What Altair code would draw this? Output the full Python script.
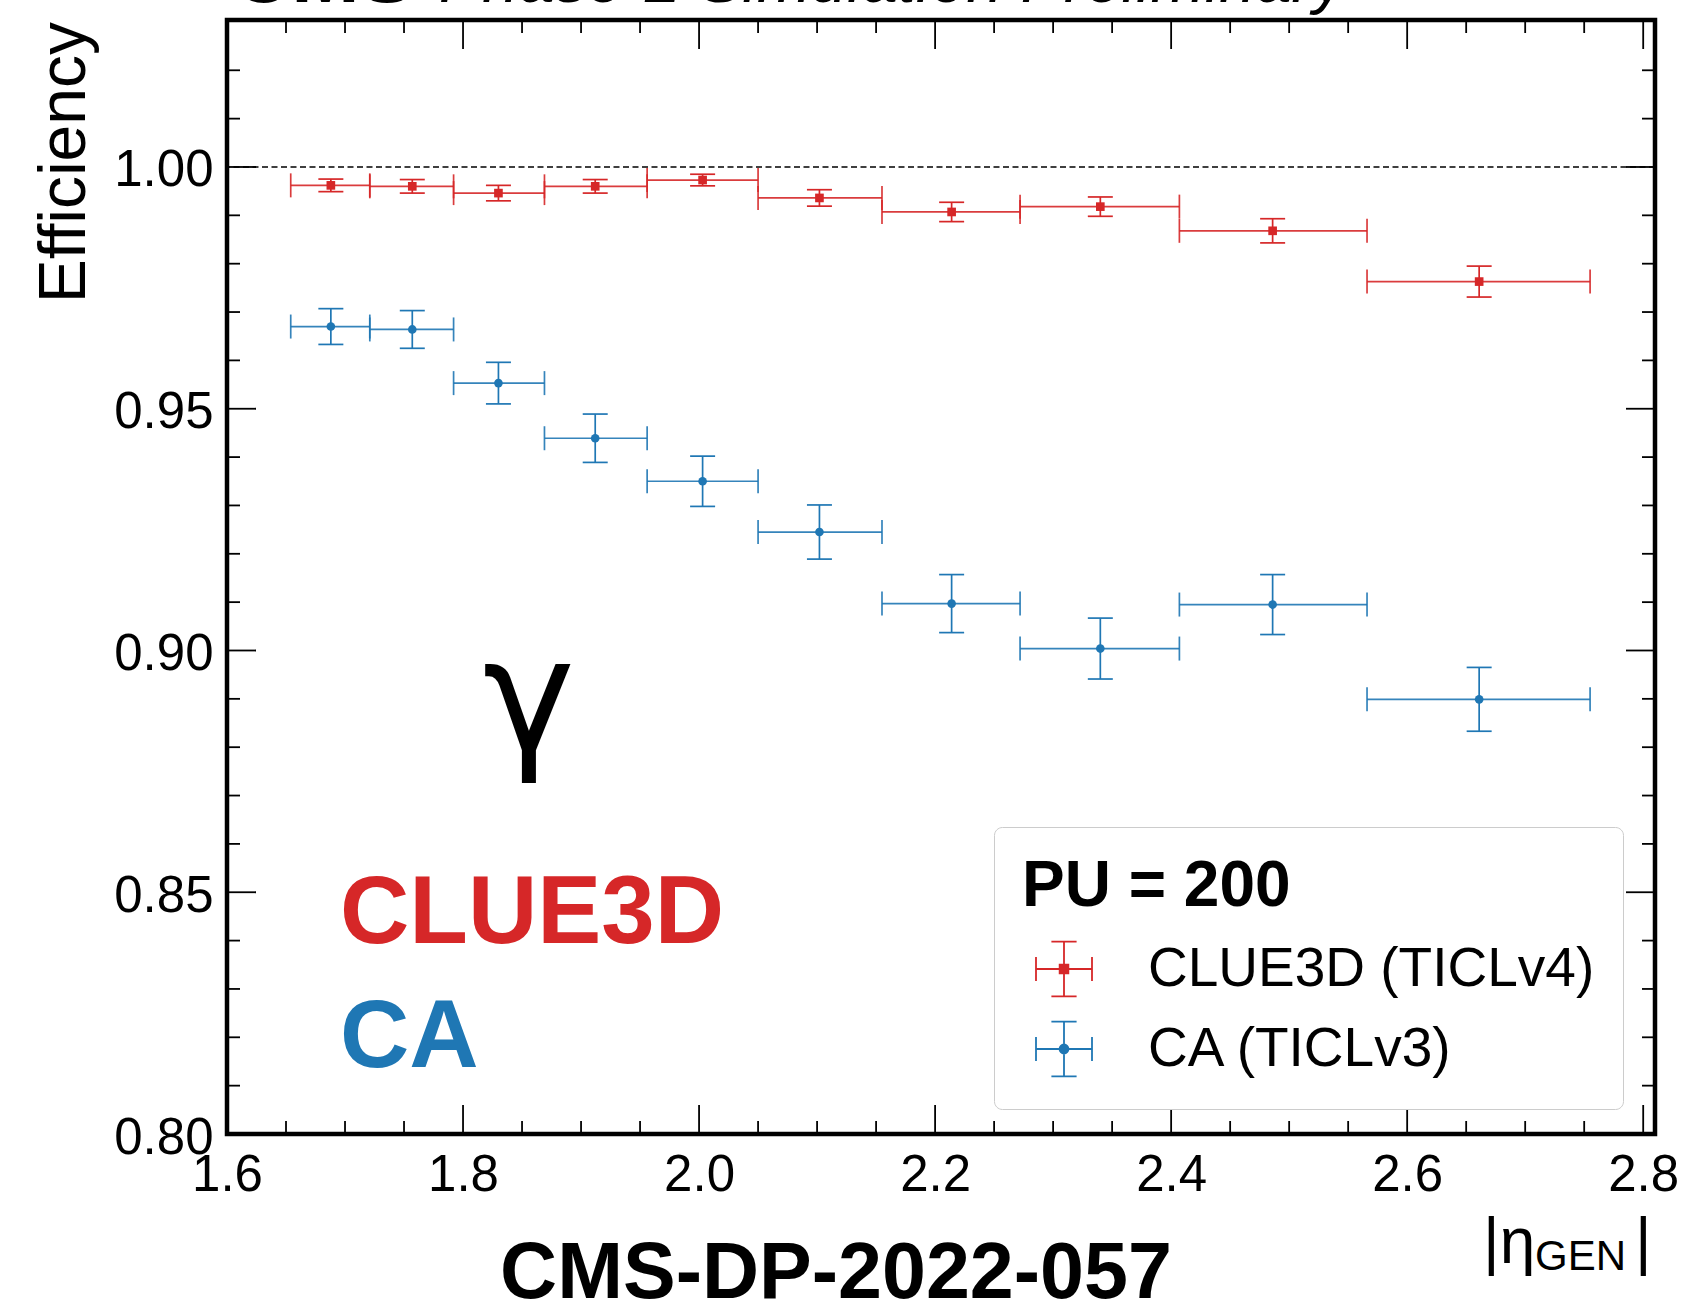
import altair as alt
import pandas as pd

# ---------------- data ----------------
eta_center = [1.688, 1.757, 1.830, 1.912, 2.003, 2.102, 2.214, 2.340, 2.486, 2.661]
eta_lo = [1.654, 1.721, 1.792, 1.869, 1.956, 2.050, 2.155, 2.272, 2.407, 2.566]
eta_hi = [1.721, 1.792, 1.869, 1.956, 2.050, 2.155, 2.272, 2.407, 2.566, 2.755]

clue3d_eff = [0.9962, 0.9960, 0.9946, 0.9960, 0.9973, 0.9936, 0.9907, 0.9918, 0.9868, 0.9763]
clue3d_err = [0.0013, 0.0014, 0.0016, 0.0014, 0.0012, 0.0017, 0.0020, 0.0020, 0.0025, 0.0032]
ca_eff = [0.9670, 0.9664, 0.9553, 0.9439, 0.9350, 0.9245, 0.9097, 0.9004, 0.9095, 0.8899]
ca_err = [0.0037, 0.0039, 0.0043, 0.0050, 0.0052, 0.0056, 0.0060, 0.0063, 0.0062, 0.0066]

series_names = ["CLUE3D (TICLv4)", "CA (TICLv3)"]
series_colors = ["#d62728", "#1f77b4"]
series_shapes = ["square", "circle"]

x_major = [1.6, 1.8, 2.0, 2.2, 2.4, 2.6, 2.8]
x_minor = [1.65, 1.70, 1.75, 1.85, 1.90, 1.95, 2.05, 2.10, 2.15, 2.25, 2.30, 2.35,
           2.45, 2.50, 2.55, 2.65, 2.70, 2.75]
y_major = [0.80, 0.85, 0.90, 0.95, 1.00]
y_minor = [0.81, 0.82, 0.83, 0.84, 0.86, 0.87, 0.88, 0.89, 0.91, 0.92, 0.93, 0.94,
           0.96, 0.97, 0.98, 0.99, 1.01, 1.02]
reference_line = [1.0]

x_domain = [1.6, 2.81]
y_domain = [0.80, 1.0304]

# ---------------- tables ----------------
rows = []
for name, eff, err in [(series_names[0], clue3d_eff, clue3d_err), (series_names[1], ca_eff, ca_err)]:
    for c, lo, hi, e, d in zip(eta_center, eta_lo, eta_hi, eff, err):
        rows.append({"series": name, "center": c, "lo": lo, "hi": hi,
                     "eff": e, "elo": e - d, "ehi": e + d})
df = pd.DataFrame(rows)

# ---------------- layout ----------------
W, H = 1428, 1114
FONT = "Liberation Sans"
MAJ, MIN = 29, 13
LW = 1.7

xs = alt.Scale(domain=x_domain, nice=False, zero=False)
ys = alt.Scale(domain=y_domain, nice=False, zero=False)
x_axis = alt.Axis(values=x_major, format=".1f", labelFontSize=51, labelFont=FONT,
                  labelColor="black", ticks=False, tickSize=0, domain=False, grid=False,
                  title=None, labelPadding=16, labelFlush=False, labelOverlap=False,
                  labelBound=False)
y_axis = alt.Axis(values=y_major, format=".2f", labelFontSize=51, labelFont=FONT,
                  labelColor="black", ticks=False, tickSize=0, domain=False, grid=False,
                  title=None, labelPadding=14, labelOffset=4, labelFlush=False,
                  labelOverlap=False, labelBound=False)


def X(f):
    return alt.X(f, type="quantitative", scale=xs, axis=x_axis)


def Y(f):
    return alt.Y(f, type="quantitative", scale=ys, axis=y_axis)


base = alt.Chart(df)
data_layers = []
for name, col, shp in zip(series_names, series_colors, series_shapes):
    sub = base.transform_filter(alt.datum.series == name)
    data_layers += [
        sub.mark_rule(strokeWidth=LW, color=col, opacity=0.9).encode(x=X("lo"), x2="hi", y=Y("eff")),
        sub.mark_rule(strokeWidth=LW, color=col).encode(x=X("center"), y=Y("elo"), y2="ehi"),
        sub.mark_tick(orient="horizontal", size=25, thickness=LW, color=col, opacity=1).encode(x=X("center"), y=Y("elo")),
        sub.mark_tick(orient="horizontal", size=25, thickness=LW, color=col, opacity=1).encode(x=X("center"), y=Y("ehi")),
        sub.mark_tick(orient="vertical", size=24, thickness=LW, color=col, opacity=0.9).encode(x=X("lo"), y=Y("eff")),
        sub.mark_tick(orient="vertical", size=24, thickness=LW, color=col, opacity=0.9).encode(x=X("hi"), y=Y("eff")),
        sub.mark_point(filled=True, opacity=1, shape=shp, size=75, color=col).encode(x=X("center"), y=Y("eff")),
    ]

ref = alt.Chart(pd.DataFrame({"ref": reference_line})).mark_rule(
    color="black", strokeWidth=1.5, strokeDash=[6, 3.5]).encode(y=Y("ref"))


# ticks (inside, all four sides)
def tick_layers():
    out = []
    for vals, L in [(x_major, MAJ), (x_minor, MIN)]:
        d = alt.Chart(pd.DataFrame({"v": vals}))
        out.append(d.mark_rule(color="black", strokeWidth=1.8).encode(x=X("v"), y=alt.value(H), y2=alt.value(H - L)))
        out.append(d.mark_rule(color="black", strokeWidth=1.8).encode(x=X("v"), y=alt.value(0), y2=alt.value(L)))
    for vals, L in [(y_major, MAJ), (y_minor, MIN)]:
        d = alt.Chart(pd.DataFrame({"v": vals}))
        out.append(d.mark_rule(color="black", strokeWidth=1.8).encode(y=Y("v"), x=alt.value(0), x2=alt.value(L)))
        out.append(d.mark_rule(color="black", strokeWidth=1.8).encode(y=Y("v"), x=alt.value(W), x2=alt.value(W - L)))
    return out


# legend (real Vega legend, custom error-bar glyphs)
sq_path = ("M-1,0H1M0,-0.98V0.98M-1,-0.43V0.43M1,-0.43V0.43"
           "M-0.45,-0.98H0.45M-0.45,0.98H0.45"
           "M-0.155,-0.155H0.155V0.155H-0.155Z")
ci_path = ("M-1,0H1M0,-0.98V0.98M-1,-0.43V0.43M1,-0.43V0.43"
           "M-0.45,-0.98H0.45M-0.45,0.98H0.45"
           "M-0.16,0A0.16,0.16 0 1,0 0.16,0A0.16,0.16 0 1,0 -0.16,0Z")
cscale = alt.Scale(domain=series_names, range=series_colors)
leg = alt.Legend(title="PU = 200", orient="none", legendX=767, legendY=807,
                 direction="vertical", padding=28, cornerRadius=8,
                 fillColor="white", strokeColor="#cccccc",
                 titleFontSize=64, titleFont=FONT, titleFontWeight="bold", titleColor="black",
                 titleLimit=1000, titlePadding=21,
                 labelFontSize=55, labelFont=FONT, labelColor="black", labelLimit=1000,
                 labelOffset=55, rowPadding=16, symbolOffset=13,
                 symbolSize=3136, symbolStrokeWidth=1.8)
legend_layer = alt.Chart(pd.DataFrame({"series": series_names})).mark_point(
    size=3136, strokeWidth=1.8, opacity=1).encode(
    x=alt.value(-4000), y=alt.value(-4000),
    fill=alt.Fill("series:N", scale=cscale, legend=leg),
    stroke=alt.Stroke("series:N", scale=cscale, legend=leg),
    shape=alt.Shape("series:N", scale=alt.Scale(domain=series_names, range=[sq_path, ci_path]), legend=leg),
)


def txt(label, x, y, size, weight="normal", color="black", align="left", font=FONT,
        style="normal", angle=0):
    return alt.Chart(pd.DataFrame({"label": [label]})).mark_text(
        font=font, fontSize=size, fontWeight=weight, color=color, align=align,
        baseline="alphabetic", fontStyle=style, angle=angle).encode(
        text="label:N", x=alt.value(x), y=alt.value(y))


texts = [
    txt("CMS", 5, -18, 82, weight="bold"),
    txt("Phase-2 Simulation Preliminary", 212, -18, 65, style="italic"),
    txt("Efficiency", -142, 2, 66, align="right", angle=270),
    txt("γ", 302, 730, 156, font="DejaVu Sans", align="center"),
    txt("CLUE3D", 113, 923, 96, weight="bold", color="#d62728"),
    txt("CA", 113, 1047, 96, weight="bold", color="#1f77b4"),
    txt("|η", 1256, 1243, 64),
    txt("GEN", 1308, 1250, 42),
    txt("|", 1408, 1243, 64),
    txt("CMS-DP-2022-057", 609, 1278, 79, weight="bold", align="center"),
]

chart = alt.layer(
    ref, *data_layers, *tick_layers(), legend_layer, *texts
).properties(
    width=W, height=H,
    padding={"left": 227, "top": 20, "right": 36, "bottom": 167},
    autosize=alt.AutoSizeParams(type="none"),
    background="white",
).configure_view(stroke="black", strokeWidth=4.5)

chart.save("out.html", embed_options={"renderer": "svg", "actions": False})
